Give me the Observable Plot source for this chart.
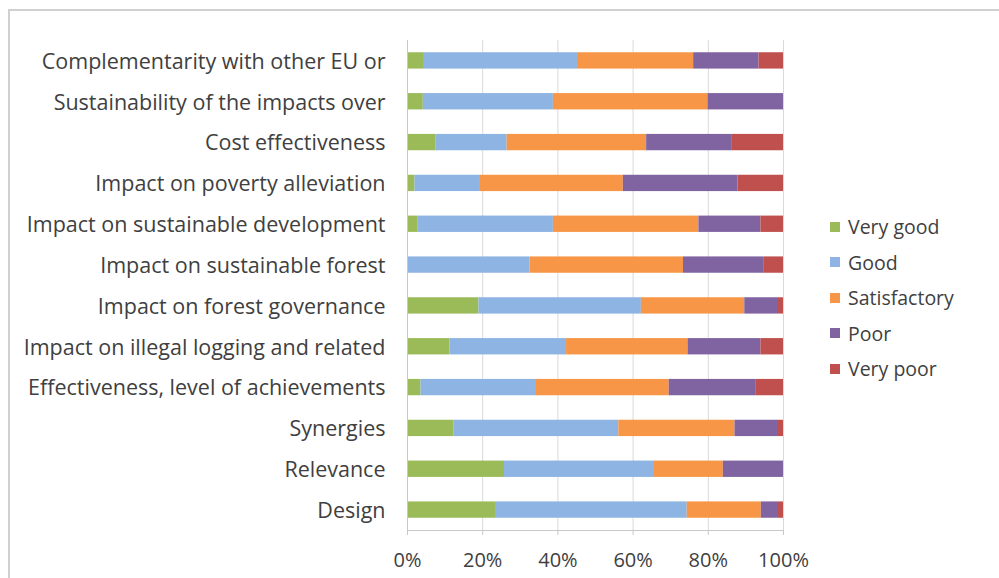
<!DOCTYPE html>
<html>
<head>
<meta charset="utf-8">
<script src="https://cdn.jsdelivr.net/npm/d3@7"></script>
<script src="https://cdn.jsdelivr.net/npm/@observablehq/plot@0.6"></script>
<style>
  html, body { margin: 0; padding: 0; background: #fff; }
  #wrap { position: relative; width: 999px; height: 578px; overflow: hidden; font-family: "Open Sans", sans-serif; }
  #frame { position: absolute; left: 8px; top: 9px; right: -2px; bottom: -2px; border-top: 2px solid #d0d0d0; border-left: 2px solid #d0d0d0; }
  #chart { position: absolute; left: 0; top: 0; }
  #legend { position: absolute; left: 830px; top: 209px; color: #404040; font-size: 19.5px; }
  #legend .item { display: flex; align-items: center; height: 35.5px; }
  #legend .sw { width: 10px; height: 10px; margin-right: 8px; }
</style>
</head>
<body>
<div id="wrap">
  <div id="frame"></div>
  <div id="chart"></div>
  <div id="legend"></div>
</div>
<script>
// Evaluation criteria, top to bottom
const categories = [
  "Complementarity with other EU or",
  "Sustainability of the impacts over",
  "Cost effectiveness",
  "Impact on poverty alleviation",
  "Impact on sustainable development",
  "Impact on sustainable forest",
  "Impact on forest governance",
  "Impact on illegal logging and related",
  "Effectiveness, level of achievements",
  "Synergies",
  "Relevance",
  "Design"
];

// Rating scale, stacked left to right
const ratings = ["Very good", "Good", "Satisfactory", "Poor", "Very poor"];
const colors = ["#9BBB59", "#8DB4E2", "#F79646", "#8064A2", "#C0504D"];

// Share of answers (%) per criterion, one array per rating
const veryGood     = [4.5,  4.2,  7.5,  2.0,  2.7,  0.0, 19.0, 11.3,  3.6, 12.3, 25.8, 23.4];
const good         = [40.7, 34.6, 19.0, 17.4, 36.1, 32.6, 43.2, 31.0, 30.7, 43.9, 39.9, 51.0];
const satisfactory = [30.9, 41.1, 37.1, 38.0, 38.7, 40.8, 27.5, 32.3, 35.3, 30.9, 18.3, 19.7];
const poor         = [17.4, 20.1, 22.8, 30.5, 16.5, 21.5,  8.7, 19.4, 23.0, 11.3, 16.0,  4.3];
const veryPoor     = [6.5,  0.0, 13.6, 12.1,  6.0,  5.1,  1.6,  6.0,  7.4,  1.6,  0.0,  1.6];

const xTicks = [0, 0.2, 0.4, 0.6, 0.8, 1];

const series = [veryGood, good, satisfactory, poor, veryPoor];
const rows = [];
categories.forEach((c, i) => {
  ratings.forEach((r, j) => rows.push({criterion: c, rating: r, value: series[j][i]}));
});

const chart = Plot.plot({
  width: 999,
  height: 578,
  marginLeft: 407,
  marginRight: 216,
  marginTop: 40,
  marginBottom: 48,
  style: {fontFamily: "'Open Sans', sans-serif", color: "#404040", background: "transparent"},
  x: {domain: [0, 1], label: null},
  y: {domain: categories, label: null, paddingInner: 0.6, paddingOuter: 0.3, round: false},
  color: {domain: ratings, range: colors},
  marks: [
    Plot.gridX(xTicks, {stroke: "#d9d9d9", strokeOpacity: 1}),
    Plot.barX(rows, Plot.stackX({
      x: "value",
      y: "criterion",
      fill: "rating",
      order: ratings,
      offset: "normalize"
    })),
    Plot.ruleX([0], {stroke: "#c8c8c8"}),
    Plot.frame({anchor: "bottom", stroke: "#c8c8c8"}),
    Plot.axisX({
      ticks: xTicks,
      tickFormat: d3.format(".0%"),
      tickSize: 5,
      tickPadding: 17,
      fontSize: 20,
      stroke: "#c8c8c8",
      fill: "#404040"
    }),
    Plot.axisY({tickSize: 0, tickPadding: 22, fontSize: 21.5, fill: "#404040", dy: 1})
  ]
});
document.getElementById("chart").appendChild(chart);

// Legend
const legend = document.getElementById("legend");
ratings.forEach((r, i) => {
  const item = document.createElement("div");
  item.className = "item";
  const sw = document.createElement("span");
  sw.className = "sw";
  sw.style.background = colors[i];
  const t = document.createElement("span");
  t.textContent = r;
  item.appendChild(sw);
  item.appendChild(t);
  legend.appendChild(item);
});
</script>
</body>
</html>
